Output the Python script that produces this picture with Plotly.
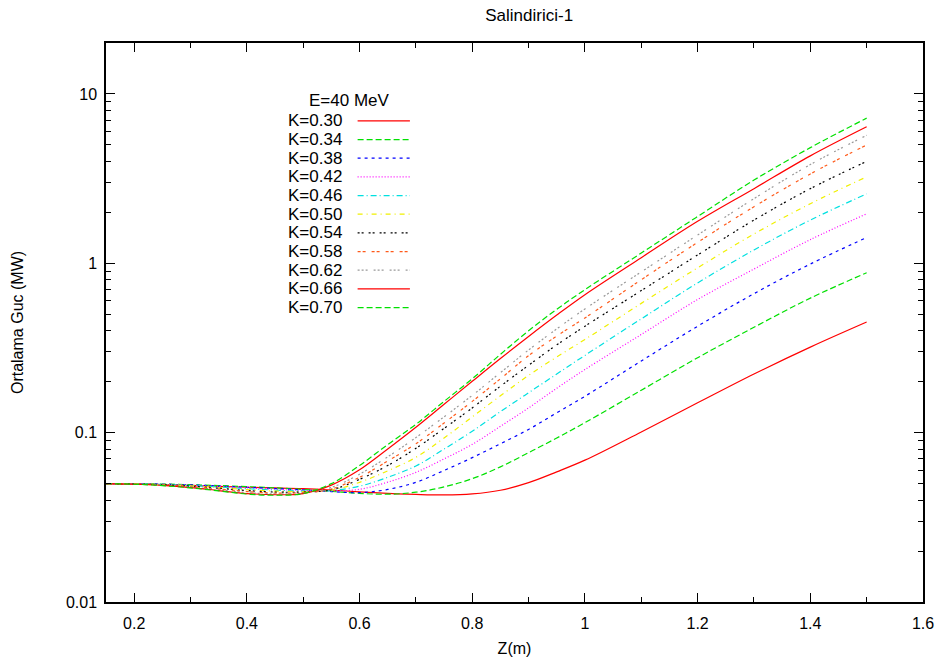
import plotly.graph_objects as go

z = [0.15, 0.20, 0.25, 0.30, 0.35, 0.40, 0.45, 0.50, 0.55, 0.60, 0.65, 0.70, 0.75, 0.80,
     0.85, 0.90, 0.95, 1.00, 1.10, 1.20, 1.30, 1.40, 1.50]

k_labels = ["K=0.30", "K=0.34", "K=0.38", "K=0.42", "K=0.46", "K=0.50",
            "K=0.54", "K=0.58", "K=0.62", "K=0.66", "K=0.70"]
legend_title = "E=40 MeV"

p_k030 = [.0500, .0498, .0494, .0488, .0482, .0476, .0472, .0467, .0458, .0447, .0438, .0432, .0429, .0435,
          .0457, .0507, .0587, .0688, 0.101, 0.150, 0.222, 0.320, 0.45]
p_k034 = [.0500, .0499, .0497, .0493, .0487, .0480, .0472, .0462, .0450, .0438, .0433, .0445, .0478, .0535,
          .0628, .0762, .0930, .1146, 0.178, 0.277, 0.419, 0.623, 0.88]
p_k038 = [.0500, .0499, .0496, .0491, .0484, .0476, .0468, .0459, .0449, .0442, .0462, .0509, .0598, .0712,
          .0860, .1045, .1310, .1640, 0.265, 0.425, 0.662, 0.99, 1.42]
p_k042 = [.0500, .0498, .0495, .0489, .0481, .0472, .0463, .0456, .0453, .0463, .0510, .0583, .0700, .0853,
          .1090, .1400, .1830, .2360, 0.38, 0.611, 0.925, 1.38, 1.96]
p_k046 = [.0500, .0498, .0494, .0487, .0478, .0467, .0458, .0452, .0455, .0483, .0545, .0636, .0800, .1020,
          .1330, .1720, .2220, .2860, 0.47, 0.766, 1.20, 1.80, 2.57]
p_k050 = [.0500, .0498, .0493, .0485, .0474, .0461, .0452, .0449, .0457, .0509, .0595, .0715, .0930, .1240,
          .1650, .2180, .2800, .3550, 0.58, 0.94, 1.49, 2.25, 3.24]
p_k054 = [.0500, .0497, .0492, .0483, .0470, .0455, .0446, .0446, .0460, .0530, .0640, .0808, .1060, .1400,
          .1880, .2500, .3300, .4250, 0.69, 1.12, 1.80, 2.76, 4.00]
p_k058 = [.0500, .0497, .0491, .0480, .0465, .0449, .0440, .0443, .0465, .0545, .0680, .0860, .1140, .1530,
          .2080, .2850, .3720, .4760, 0.80, 1.33, 2.16, 3.37, 5.00]
p_k062 = [.0500, .0497, .0490, .0477, .0460, .0443, .0435, .0440, .0475, .0568, .0720, .0935, .1240, .1660,
          .2260, .3080, .4100, .5380, 0.89, 1.47, 2.41, 3.83, 5.70]
p_k066 = [.0500, .0496, .0488, .0474, .0455, .0437, .0430, .0437, .0490, .0603, .0800, .1075, .1470, .2010,
          .2740, .3700, .4950, .6530, 1.08, 1.77, 2.76, 4.31, 6.40]
p_k070 = [.0500, .0496, .0487, .0472, .0453, .0434, .0427, .0437, .0500, .0640, .0850, .1120, .1530, .2080,
          .2900, .4000, .5350, .6990, 1.15, 1.89, 3.10, 4.82, 7.20]

series = [p_k030, p_k034, p_k038, p_k042, p_k046, p_k050, p_k054, p_k058, p_k062, p_k066, p_k070]

colors = ["#ff0000", "#00e000", "#0000ff", "#ff00ff", "#00e0e0", "#f0f000",
          "#000000", "#ff5a1a", "#999999", "#ff0000", "#00e000"]
dashes = ["solid", "6px,3px", "3px,4px", "1px,2px", "6px,3px,1px,3px", "5px,4px,1px,4px",
          "2px,2px,2px,5px", "3px,2px,3px,6px", "2px,2px,2px,2px,2px,6px", "solid", "6px,3px"]

y_tickvals = [0.01, 0.1, 1, 10]
y_ticktext = ["0.01", "0.1", "1", "10"]
y_minor = [d * m for d in (0.01, 0.1, 1, 10) for m in range(2, 10) if d * m <= 20]
x_tickvals = [0.2, 0.4, 0.6, 0.8, 1.0, 1.2, 1.4, 1.6]
x_ticktext = ["0.2", "0.4", "0.6", "0.8", "1", "1.2", "1.4", "1.6"]

FONT = "Liberation Sans, Arial, sans-serif"

fig = go.Figure()
for name, vals, c, d in zip(k_labels, series, colors, dashes):
    fig.add_trace(go.Scatter(
        x=z, y=vals, mode="lines", name=name,
        line=dict(color=c, width=1.2, dash=d, shape="spline", smoothing=1.0),
    ))

# gnuplot-style key: label right-aligned, then line sample
L, R, T, B = 106, 934, 43, 603
W, H = R - L, B - T
def px(x):
    return (x - L) / W
def py(y):
    return (B - y) / H

annotations = [dict(text=legend_title, xref="paper", yref="paper", x=px(353), y=py(101),
                    xanchor="center", yanchor="middle", showarrow=False,
                    font=dict(family=FONT, size=17, color="black"))]
shapes = []
row0, step = 121, 18.7
for i, (name, c, d) in enumerate(zip(k_labels, colors, dashes)):
    yy = row0 + i * step
    annotations.append(dict(text=name, xref="paper", yref="paper", x=px(347), y=py(yy),
                            xanchor="right", yanchor="middle", showarrow=False,
                            font=dict(family=FONT, size=17, color="black")))
    shapes.append(dict(type="line", xref="paper", yref="paper", x0=px(361), x1=px(414),
                       y0=py(yy), y1=py(yy), line=dict(color=c, width=1.2, dash=d)))

fig.update_layout(
    width=945, height=666,
    margin=dict(l=L, r=945 - R, t=T, b=666 - B),
    paper_bgcolor="white", plot_bgcolor="white",
    font=dict(family=FONT, size=16, color="black"),
    title=dict(text="Salindirici-1", x=0.56, xanchor="center", y=0.978, yanchor="middle",
               font=dict(family=FONT, size=17, color="black")),
    showlegend=False,
    annotations=annotations,
    shapes=shapes,
)

fig.update_xaxes(
    range=[0.15, 1.6], showgrid=False, zeroline=False,
    showline=True, linecolor="black", linewidth=1.5, mirror="ticks",
    ticks="inside", ticklen=9, tickwidth=1, tickcolor="black",
    tickvals=x_tickvals, ticktext=x_ticktext,
    minor=dict(ticks="inside", ticklen=5, dtick=0.1, tick0=0.1, tickcolor="black", showgrid=False),
    title=dict(text="Z(m)", standoff=12, font=dict(size=16)),
    ticklabelstandoff=6,
)
fig.update_yaxes(
    type="log", range=[-2, 1.30103], showgrid=False, zeroline=False,
    showline=True, linecolor="black", linewidth=1.5, mirror="ticks",
    ticks="inside", ticklen=9, tickwidth=1, tickcolor="black",
    tickvals=y_tickvals, ticktext=y_ticktext,
    minor=dict(ticks="inside", ticklen=5, tickcolor="black", showgrid=False, tickvals=y_minor),
    title=dict(text="Ortalama Guc (MW)", standoff=38, font=dict(size=16)),
    ticklabelstandoff=4,
)

fig.write_html("out.html")
